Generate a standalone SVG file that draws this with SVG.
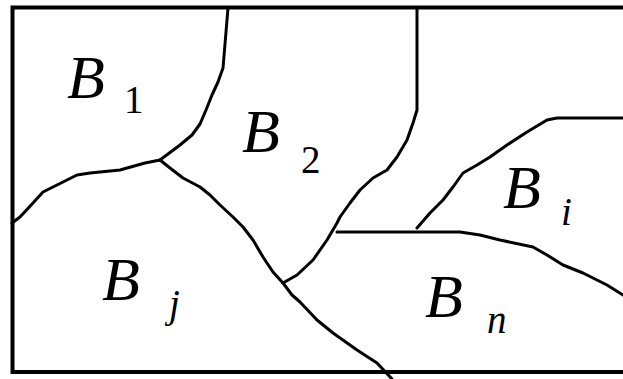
<svg xmlns="http://www.w3.org/2000/svg" width="623" height="379" viewBox="0 0 623 379">
<style>
.b{fill:none;stroke:#000;stroke-width:4}
.c{fill:none;stroke:#000;stroke-width:3;stroke-linejoin:round;stroke-linecap:round}
.L{font-family:"Liberation Serif",serif;font-style:italic;font-size:62px;fill:#000}
.s{font-family:"Liberation Serif",serif;font-size:39px;fill:#000}
.si{font-family:"Liberation Serif",serif;font-style:italic;font-size:39px;fill:#000}
</style>
<rect width="623" height="379" fill="#fff"/>
<g id="border">
<polyline class="b" points="623,7.5 12.5,7.5 12.5,372 623,372"/>
</g>
<g id="connectors">
<polyline class="c" points="228,8 223,68 218,82 212,95 206,110 200,124 192,135 180,145 160,160"/>
<polyline class="c" points="160,160 145,163 120,170 90,173 77,175 67,180 43,192 33,203 20,217 12,223"/>
<polyline class="c" points="160,160 170,168 183,178 200,187 210,195 220,205 233,217 243,227 253,240 263,257 273,272 283,283 292,295 300,302 317,320 333,333 357,350 377,363 392,379"/>
<polyline class="c" points="283,283 297,275 313,260 327,240 337,223 340,217 350,203 360,190 373,178 387,170 397,157 407,140 413,123 417,110 417,8"/>
<polyline class="c" points="337,232 460,232 480,235 500,240 533,247 547,255 563,265 583,273 607,285 623,295"/>
<polyline class="c" points="417,228 430,213 443,200 453,187 463,173 477,165 490,157 507,145 527,132 547,120 557,118 623,118"/>
</g>
<g id="B1"><text class="L" x="67" y="98">B</text><text class="s" x="124" y="113">1</text></g>
<g id="B2"><text class="L" x="242" y="152">B</text><text class="s" x="301" y="173">2</text></g>
<g id="Bi"><text class="L" x="503" y="208">B</text><text class="si" x="561" y="225">i</text></g>
<g id="Bj"><text class="L" x="102" y="300">B</text><text class="si" x="169" y="317">j</text></g>
<g id="Bn"><text class="L" x="425" y="317">B</text><text class="si" x="487" y="333">n</text></g>
</svg>
